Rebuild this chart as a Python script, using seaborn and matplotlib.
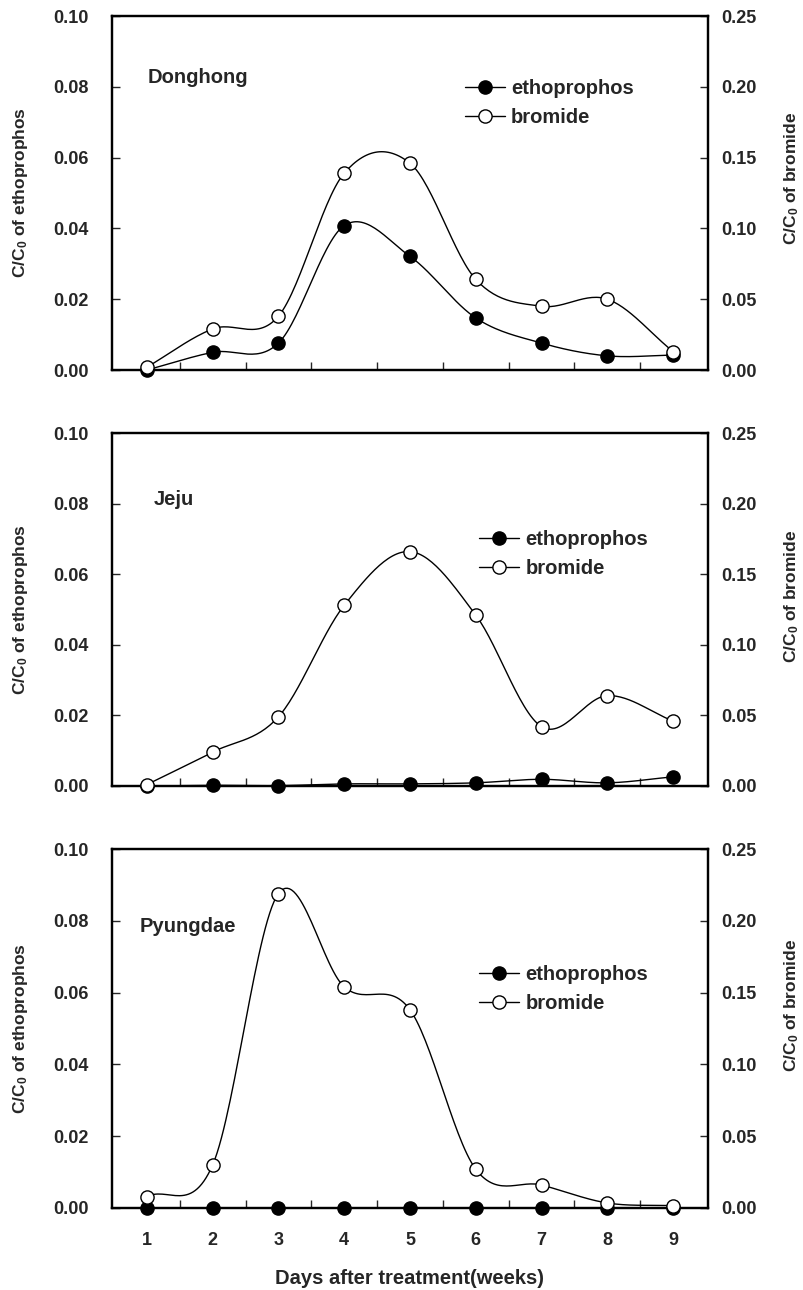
import numpy as np
import pandas as pd
import matplotlib
matplotlib.use("Agg")
import matplotlib.pyplot as plt
from matplotlib.lines import Line2D
import seaborn as sns

weeks = [1, 2, 3, 4, 5, 6, 7, 8, 9]
sites = ["Donghong", "Jeju", "Pyungdae"]

# C/C0 of ethoprophos (left axis)
etho_donghong = [0.0000, 0.0050, 0.0076, 0.0408, 0.0321, 0.0147, 0.0076, 0.0040, 0.0042]
etho_jeju     = [0.0000, 0.0002, 0.0001, 0.0006, 0.0006, 0.0009, 0.0019, 0.0009, 0.0026]
etho_pyungdae = [0.0000, 0.0000, 0.0000, 0.0000, 0.0000, 0.0000, 0.0000, 0.0000, 0.0000]

# C/C0 of bromide (right axis)
brom_donghong = [0.002, 0.029, 0.038, 0.139, 0.146, 0.064, 0.045, 0.050, 0.013]
brom_jeju     = [0.001, 0.024, 0.049, 0.128, 0.166, 0.121, 0.042, 0.064, 0.046]
brom_pyungdae = [0.008, 0.030, 0.219, 0.154, 0.138, 0.027, 0.016, 0.0035, 0.0016]

etho = [etho_donghong, etho_jeju, etho_pyungdae]
brom = [brom_donghong, brom_jeju, brom_pyungdae]

left_ticks = [0.00, 0.02, 0.04, 0.06, 0.08, 0.10]
right_ticks = [0.00, 0.05, 0.10, 0.15, 0.20, 0.25]


def catmull_rom(x, y, n=30):
    x = np.asarray(x, float)
    y = np.asarray(y, float)
    px = np.concatenate([[2 * x[0] - x[1]], x, [2 * x[-1] - x[-2]]])
    py = np.concatenate([[2 * y[0] - y[1]], y, [2 * y[-1] - y[-2]]])
    xs, ys = [], []
    t = np.linspace(0, 1, n, endpoint=False)
    for i in range(1, len(px) - 2):
        p0, p1, p2, p3 = (np.array([px[j], py[j]]) for j in range(i - 1, i + 3))
        c1 = p1 + (p2 - p0) / 6.0
        c2 = p2 - (p3 - p1) / 6.0
        b = ((1 - t) ** 3)[:, None] * p1 + (3 * (1 - t) ** 2 * t)[:, None] * c1 \
            + (3 * (1 - t) * t ** 2)[:, None] * c2 + (t ** 3)[:, None] * p2
        xs.append(b[:, 0]); ys.append(b[:, 1])
    xs.append([x[-1]]); ys.append([y[-1]])
    return np.concatenate(xs), np.concatenate(ys)


sns.set_theme(style="ticks")
plt.rcParams["font.family"] = ["Liberation Sans", "DejaVu Sans"]
plt.rcParams["font.weight"] = "bold"
plt.rcParams["mathtext.fontset"] = "custom"
plt.rcParams["mathtext.rm"] = "Liberation Sans:bold"
plt.rcParams["mathtext.bf"] = "Liberation Sans:bold"
plt.rcParams["mathtext.it"] = "Liberation Sans:bold"

fig = plt.figure(figsize=(8.04, 12.90), dpi=100)

W = 804.0; H = 1290.0
panels = [(16, 370), (433, 786), (849, 1208)]
left_px, right_px = 112, 708
label_pos = [(0.060, 0.825), (0.070, 0.812), (0.047, 0.783)]
legend_pos = [(0.592, 0.755), (0.616, 0.657), (0.616, 0.610)]
right_label_y = [0.54, 0.537, 0.563]

fs_tick = 13
fs_lab = 12.5
fs_text = 14.5
ms = 9.5

for i, (top, bot) in enumerate(panels):
    ax = fig.add_axes([left_px / W, 1 - bot / H, (right_px - left_px) / W, (bot - top) / H])
    ax2 = ax.twinx()

    # ethoprophos
    sx, sy = catmull_rom(weeks, etho[i])
    sns.lineplot(x=sx, y=sy, ax=ax, color="black", linewidth=1.0, sort=False, estimator=None)
    ax.plot(weeks, etho[i], linestyle="none", marker="o", markersize=ms,
            markerfacecolor="black", markeredgecolor="black", clip_on=False, zorder=5)

    # bromide
    bx, by = catmull_rom(weeks, brom[i])
    sns.lineplot(x=bx, y=by, ax=ax2, color="black", linewidth=1.0, sort=False, estimator=None)
    ax2.plot(weeks, brom[i], linestyle="none", marker="o", markersize=ms,
             markerfacecolor="white", markeredgecolor="black", markeredgewidth=1.0,
             clip_on=False, zorder=5)

    ax.set_xlim(0.47, 9.53)
    ax.set_ylim(0, 0.10)
    ax2.set_ylim(0, 0.25)
    ax.set_yticks(left_ticks)
    ax.set_yticklabels([f"{v:.2f}" for v in left_ticks], fontsize=fs_tick, fontweight="bold")
    ax2.set_yticks(right_ticks)
    ax2.set_yticklabels([f"{v:.2f}" for v in right_ticks], fontsize=fs_tick, fontweight="bold")

    ax.set_xticks(weeks)
    ax.set_xticks([w + 0.5 for w in weeks[:-1]], minor=True)
    ax.tick_params(axis="x", which="major", length=0, pad=17)
    ax.tick_params(axis="x", which="minor", direction="in", length=6, width=1.0)
    if i == 2:
        ax.set_xticklabels([str(w) for w in weeks], fontsize=fs_tick, fontweight="bold")
        ax.set_xlabel("Days after treatment(weeks)", fontsize=fs_text, fontweight="bold", labelpad=15)
    else:
        ax.set_xticklabels([])
        ax.set_xlabel("")

    ax.tick_params(axis="y", direction="in", length=6, width=1.0, pad=16.5)
    ax2.tick_params(axis="y", direction="in", length=6, width=1.0, pad=9.5)

    ax.set_ylabel(r"C/C$_{\mathbf{0}}$ of ethoprophos", fontsize=fs_lab, fontweight="bold")
    ax2.set_ylabel(r"C/C$_{\mathbf{0}}$ of bromide", fontsize=fs_lab, fontweight="bold")
    ax.yaxis.set_label_coords(-0.138, 0.50)
    ax2.yaxis.set_label_coords(1.124, right_label_y[i])

    for a in (ax, ax2):
        for s in a.spines.values():
            s.set_linewidth(1.6)
            s.set_color("black")

    ax.text(label_pos[i][0], label_pos[i][1], sites[i], transform=ax.transAxes,
            fontsize=fs_text, fontweight="bold", ha="left", va="center")

    handles = [
        Line2D([], [], color="black", linewidth=1.0, marker="o", markersize=ms,
               markerfacecolor="black", markeredgecolor="black"),
        Line2D([], [], color="black", linewidth=1.0, marker="o", markersize=ms,
               markerfacecolor="white", markeredgecolor="black"),
    ]
    ax2.legend(handles, ["ethoprophos", "bromide"], loc="center left",
               bbox_to_anchor=legend_pos[i], frameon=False, handlelength=2.0,
               handletextpad=0.3, labelspacing=0.5, borderaxespad=0, borderpad=0,
               prop={"weight": "bold", "size": fs_text})

fig.savefig("out.png", dpi=100)
